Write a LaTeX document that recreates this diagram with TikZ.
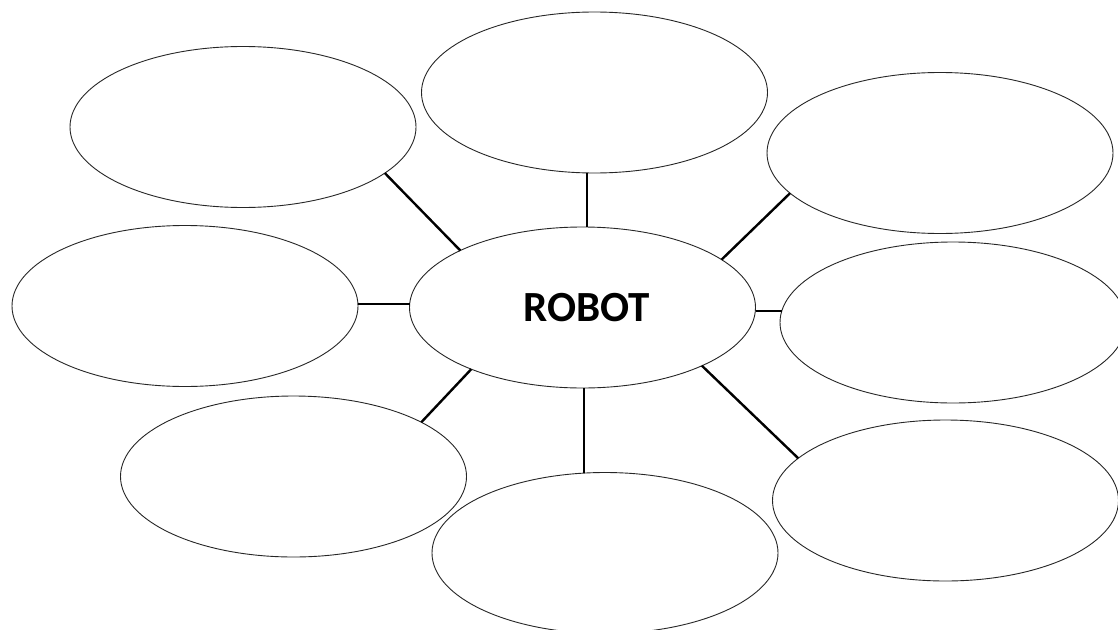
\documentclass[tikz,border=0pt]{standalone}
\usepackage{fontspec}
\setmainfont{Carlito}
\usetikzlibrary{shapes.geometric}
\tikzset{
  bubble/.style={ellipse, draw=black!85, line width=0.9pt, minimum width=346pt, minimum height=161pt, inner sep=0pt, outer sep=0pt},
  link/.style={draw=black, line width=2.4pt, line cap=butt}
}
\begin{document}
\begin{tikzpicture}[x=1pt,y=-1pt]
\useasboundingbox[fill=white] (0,0) rectangle (1118,629);
\node[bubble, font=\bfseries\fontsize{43}{43}\selectfont] (C) at (582.5,307.5) {\hspace*{8pt}ROBOT};
\node[bubble] (T)  at (594.5,92.5) {};
\node[bubble] (TL) at (243,127) {};
\node[bubble] (TR) at (940,153) {};
\node[bubble] (L)  at (185,306) {};
\node[bubble] (R)  at (953,322.5) {};
\node[bubble] (BL) at (293.5,476.5) {};
\node[bubble] (B)  at (605,553) {};
\node[bubble] (BR) at (945.5,500.5) {};
\draw[link] (TL.-18.9) -- (C.155.2);
\draw[link] ([xshift=-7.5pt]T.south) -- ([xshift=4.5pt]C.north);
\draw[link] (TR.-165.7) -- (C.19.8);
\draw[link] ([yshift=2pt]L.east) -- ([yshift=3.5pt]C.west);
\draw[link] ([yshift=-3.5pt]C.east) -- ([xshift=1.8pt,yshift=11.5pt]R.west);
\draw[link] (BL.23) -- (C.209.7);
\draw[link] ([xshift=1.5pt]C.south) -- ([xshift=-21pt,yshift=-0.6pt]B.north);
\draw[link] (C.-26.5) -- (BR.164.3);
\end{tikzpicture}
\end{document}
